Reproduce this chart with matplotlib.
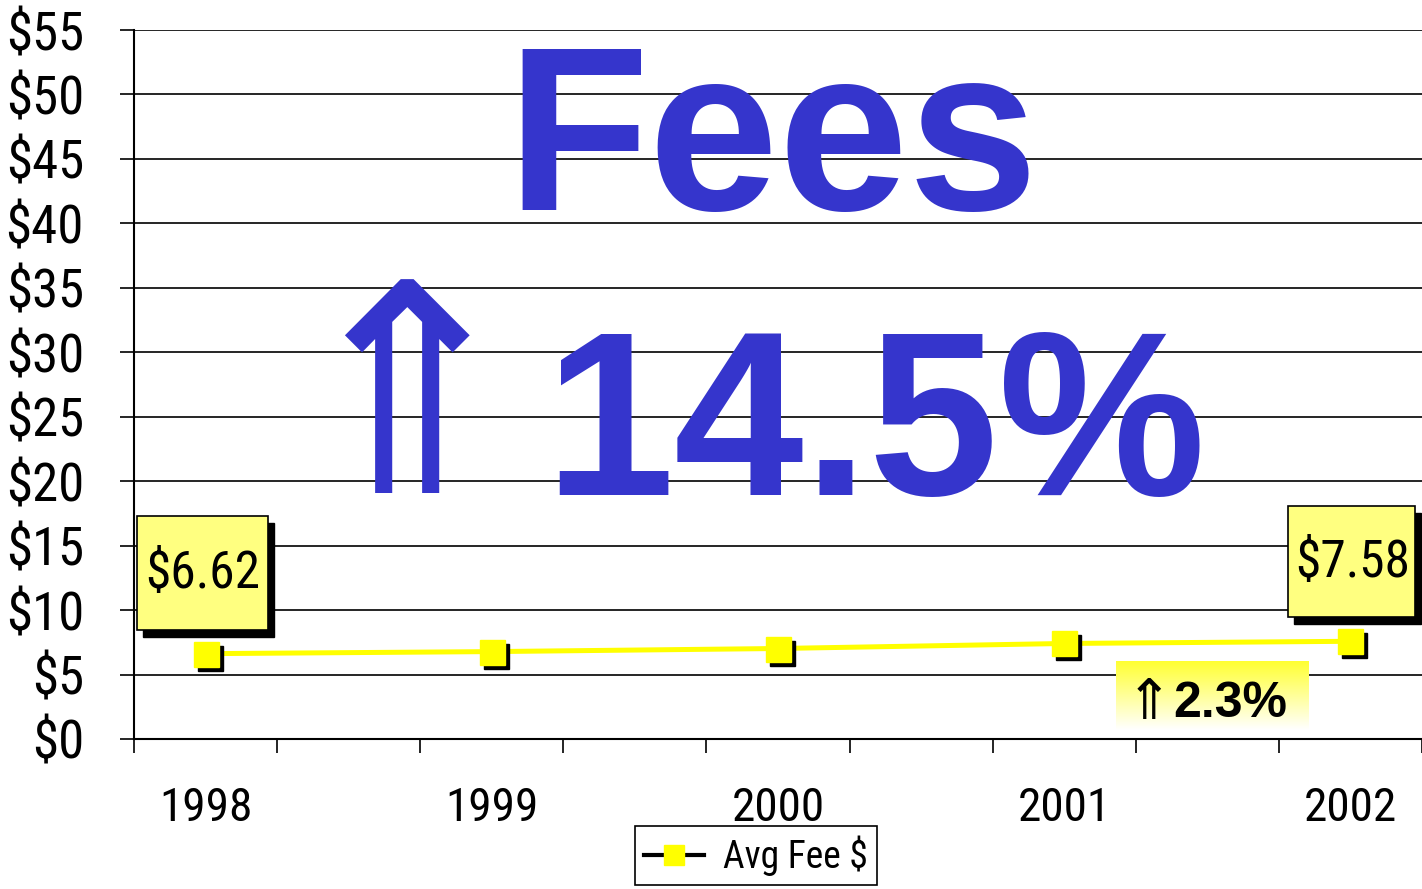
import matplotlib
matplotlib.use('Agg')
import matplotlib.pyplot as plt
import numpy as np
from matplotlib import font_manager
from matplotlib.patches import Rectangle
from matplotlib.transforms import offset_copy


def pick_font(names):
    for n in names:
        try:
            font_manager.findfont(font_manager.FontProperties(family=n), fallback_to_default=False)
            return n
        except Exception:
            pass
    return 'DejaVu Sans'


NARROW = pick_font(['Liberation Sans Narrow', 'Roboto Condensed', 'Open Sans Condensed', 'DejaVu Sans'])
BOLD = pick_font(['Liberation Sans', 'Arial', 'DejaVu Sans'])

# data
years = ['1998', '1999', '2000', '2001', '2002']
avg_fee = [6.62, 6.78, 7.02, 7.41, 7.58]
y_ticks = list(range(0, 60, 5))
y_labels = [f'${v}' for v in y_ticks]

BLUE = '#3535CC'
YELLOW = '#FFFF00'

fig = plt.figure(figsize=(14.22, 8.89), dpi=100)
ax = fig.add_axes([134 / 1422, 1 - 739 / 889, 1288 / 1422, 709 / 889])

x = np.arange(len(years))

# line + markers with a black drop shadow
shadow = offset_copy(ax.transData, fig=fig, x=4, y=-4, units='dots')
ax.plot(x, avg_fee, color=YELLOW, lw=3.6, zorder=3, solid_capstyle='butt')
ax.plot(x, avg_fee, ls='none', marker='s', ms=18, mfc='black', mec='black', transform=shadow, zorder=4)
ax.plot(x, avg_fee, ls='none', marker='s', ms=18, mfc=YELLOW, mec=YELLOW, zorder=5)
# legend handle
ax.plot([], [], color='black', lw=3, marker='s', ms=14, mfc=YELLOW, mec=YELLOW, label='Avg Fee $')

ax.set_xlim(-0.25, 4.25)
ax.set_ylim(0, 55)
ax.set_yticks(y_ticks)
ax.set_yticklabels(y_labels, fontsize=38, family=NARROW)
ax.set_xticks(x)
ax.set_xticklabels(years, fontsize=34, family=NARROW)
ax.set_xticks(np.arange(-0.25, 4.3, 0.5), minor=True)
ax.tick_params(axis='x', which='major', length=0, pad=34)
ax.tick_params(axis='x', which='minor', length=10, width=1.2, direction='out')
ax.tick_params(axis='y', length=10, width=1.2, direction='out', pad=26)
ax.grid(axis='y', color='black', lw=1.2)
ax.set_axisbelow(True)
for s in ['top', 'right']:
    ax.spines[s].set_visible(False)
ax.spines['left'].set_linewidth(1.5)
ax.spines['bottom'].set_linewidth(1.5)

# value callouts (box, drop shadow, text)
callouts = [('$6.62', (-0.238, 0.217, 8.46, 17.3), (-0.01, 12.8)),
            ('$7.58', (3.783, 4.224, 9.46, 18.08), (4.007, 13.65))]
sh = offset_copy(ax.transData, fig=fig, x=6, y=-7, units='dots')
for lab, (x0, x1, y0, y1), (tx, ty) in callouts:
    ax.add_patch(Rectangle((x0, y0), x1 - x0, y1 - y0, fc='black', ec='black', transform=sh,
                           zorder=6, clip_on=False))
    ax.add_patch(Rectangle((x0, y0), x1 - x0, y1 - y0, fc='#FFFF80', ec='black', lw=1.2,
                           zorder=7, clip_on=False))
    ax.text(tx, ty, lab, fontsize=37, family=NARROW, ha='center', va='center', color='black', zorder=8)

# gradient box for the 2.3% note
grad = np.linspace(1, 0, 100).reshape(-1, 1)
cmap = matplotlib.colors.LinearSegmentedColormap.from_list('yw', ['#FFFFFF', '#FFFF33'])
ax.imshow(grad, cmap=cmap, vmin=0, vmax=1, aspect='auto', extent=(3.18, 3.853, 0.7, 6.05), zorder=2)
ax.set_xlim(-0.25, 4.25)
ax.set_ylim(0, 55)
ax.text(3.295, 2.75, '\u21d1', fontsize=40, family='DejaVu Sans', ha='center', va='center', zorder=8)
ax.text(3.38, 2.75, '2.3%', fontsize=36, family=BOLD, weight='bold', ha='left', va='center', zorder=8)

# big headline
ax.text(1.98, 41.0, 'Fees', fontsize=168, family=BOLD, weight='bold', color=BLUE, ha='center',
        va='baseline', zorder=8)
ax.text(0.70, 19.1, '\u21d1', fontsize=210, family='DejaVu Sans', color=BLUE, ha='center',
        va='baseline', zorder=8)
ax.text(1.185, 18.95, '14.5%', fontsize=168, family=BOLD, weight='bold', color=BLUE, ha='left',
        va='baseline', zorder=8)

leg = fig.legend(loc='upper left', bbox_to_anchor=(635 / 1422, 1 - 826 / 889), fancybox=False,
                 edgecolor='black', framealpha=1, prop={'family': NARROW, 'size': 27},
                 handlelength=1.6, borderpad=0.25, handletextpad=0.5, borderaxespad=0)
leg.get_frame().set_linewidth(1.2)

fig.savefig('out.png', dpi=100)
